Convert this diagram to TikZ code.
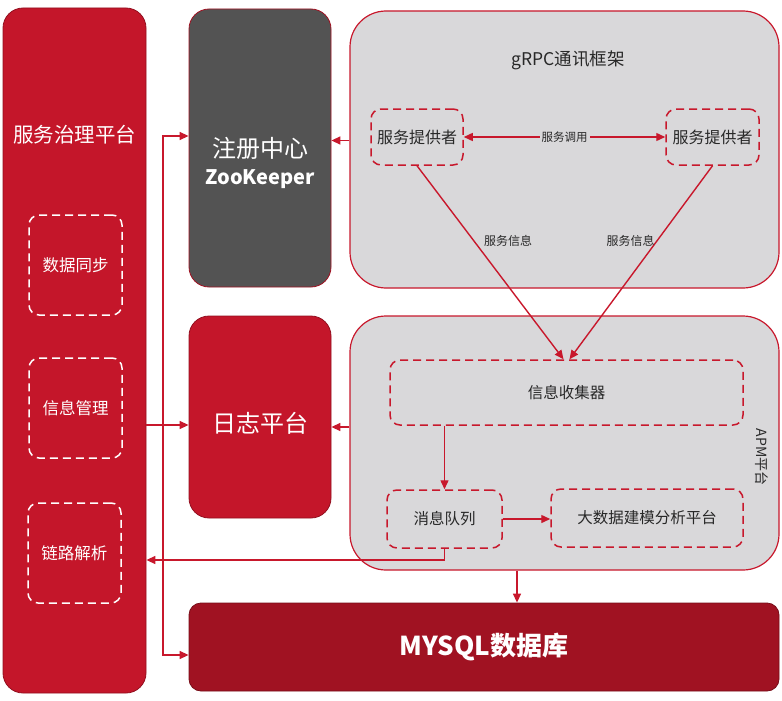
\documentclass[tikz,border=0pt]{standalone}
\usepackage{fontspec}
\setmainfont{Noto Sans CJK SC}
\usetikzlibrary{arrows.meta, positioning}
\definecolor{govred}{RGB}{196, 22, 42}
\definecolor{dbred}{RGB}{160, 18, 34}
\definecolor{zkgray}{RGB}{83, 83, 83}
\definecolor{panelgray}{RGB}{217, 216, 218}
\definecolor{linered}{RGB}{200, 24, 44}
\definecolor{txtgray}{RGB}{40, 40, 40}

\begin{document}
\begin{tikzpicture}[x=1pt, y=-1pt,
  blk/.style={draw=#1!75!black, fill=#1, rounded corners=20pt, inner sep=0pt, line width=0.8pt},
  panel/.style={draw=linered, fill=panelgray, rounded corners=36pt, inner sep=0pt, line width=1.2pt},
  sub/.style={draw=#1, dash pattern=on 8pt off 5pt, rounded corners=10pt, inner sep=0pt, line width=1.5pt, align=center},
  arr/.style={-{Triangle[length=9pt, width=8pt]}, line width=1.4pt, linered},
  fs/.style={font=\fontsize{#1}{#1}\selectfont},
]
  \useasboundingbox (0, 0) rectangle (782, 701);

  % left column
  \node[blk=govred, minimum width=143pt, minimum height=685pt] (gov) at (74.5, 350.5) {};
  \node[white, fs=20.5] (govt) at (74.5, 135) {服务治理平台};
  \node[sub=white, text=white, fs=16.5, minimum width=93pt, minimum height=100pt] (sync) at (75.5, 265) {数据同步};
  \node[sub=white, text=white, fs=16.5, minimum width=93pt, minimum height=100pt] (mgmt) at (75.5, 408) {信息管理};
  \node[sub=white, text=white, fs=16.5, minimum width=93pt, minimum height=100pt] (trace) at (74.5, 553) {链路解析};

  % middle column
  \node[blk=zkgray, draw=dbred, minimum width=142pt, minimum height=278pt] (zk) at (260, 148) {};
  \node[white, align=center, fs=24] (zkt) at (260, 163) {注册中心\\[3pt]{\bfseries\fontsize{20}{20}\selectfont ZooKeeper}};
  \node[blk=govred, minimum width=142pt, minimum height=202pt] (log) at (260, 417) {};
  \node[white, fs=24] (logt) at (260, 423) {日志平台};

  % gRPC
  \node[panel, minimum width=429pt, minimum height=277pt] (grpc) at (564.5, 149.5) {};
  \node[txtgray, fs=17.5] (grpct) at (568, 60) {gRPC通讯框架};
  \node[sub=linered, text=txtgray, fs=16, minimum width=92pt, minimum height=56pt] (prov1) at (417, 137) {服务提供者};
  \node[sub=linered, text=txtgray, fs=16, minimum width=93pt, minimum height=56pt] (prov2) at (712.5, 137) {服务提供者};

  % APM
  \node[panel, minimum width=429pt, minimum height=254pt] (apm) at (564.5, 443) {};
  \node[txtgray, fs=14, rotate=-90] (apmt) at (762, 457) {APM平台};
  \node[sub=linered, text=txtgray, fs=15.5, minimum width=353pt, minimum height=65pt] (coll) at (566.5, 392.5) {信息收集器};
  \node[sub=linered, text=txtgray, fs=15.5, minimum width=115pt, minimum height=58pt] (mq) at (444.5, 519) {消息队列};
  \node[sub=linered, text=txtgray, fs=15.5, minimum width=192pt, minimum height=58pt] (bd) at (647, 518) {大数据建模分析平台};

  % database
  \node[blk=dbred, rounded corners=12pt, minimum width=590pt, minimum height=88pt, text=white,
    font={\bfseries\fontsize{26}{26}\selectfont}] (db) at (484, 647) {MYSQL数据库};

  % connectors
  \coordinate (bus) at (163, 425);
  \draw[arr] (gov.east |- bus) -- (log.west |- bus);
  \draw[arr] (bus) |- ([yshift=12pt]zk.west);
  \draw[arr] (bus) |- ([yshift=-8pt]db.west);
  \draw[arr] ([yshift=9pt]grpc.west) -- ([yshift=9pt]grpc.west -| zk.east);
  \draw[arr] ([yshift=16pt]apm.west) -- ([yshift=16pt]apm.west -| log.east);
  \draw[{Triangle[length=9pt, width=8pt]}-{Triangle[length=9pt, width=8pt]}, line width=1.4pt, linered] (prov1) -- (prov2)
    node[midway, fill=panelgray, text=txtgray, fs=11.5, inner sep=2pt] (call) {服务调用};
  \draw[arr] (prov1.south) -- ([xshift=-3pt]coll.north)
    node[pos=0.39, right=6pt, text=txtgray, fs=12] (info1) {服务信息};
  \draw[arr] (prov2.south) -- ([xshift=3pt]coll.north)
    node[pos=0.39, left=-2pt, text=txtgray, fs=12] (info2) {服务信息};
  \draw[arr] (mq.north |- coll.south) -- (mq.north);
  \draw[arr] (mq.east) -- (mq.east -| bd.west);
  \draw[arr] (mq.south) |- ([yshift=-7pt]trace.east -| gov.east);
  \draw[arr] ([xshift=-47.5pt]apm.south) -- ([xshift=-47.5pt]apm.south |- db.north);
\end{tikzpicture}
\end{document}
